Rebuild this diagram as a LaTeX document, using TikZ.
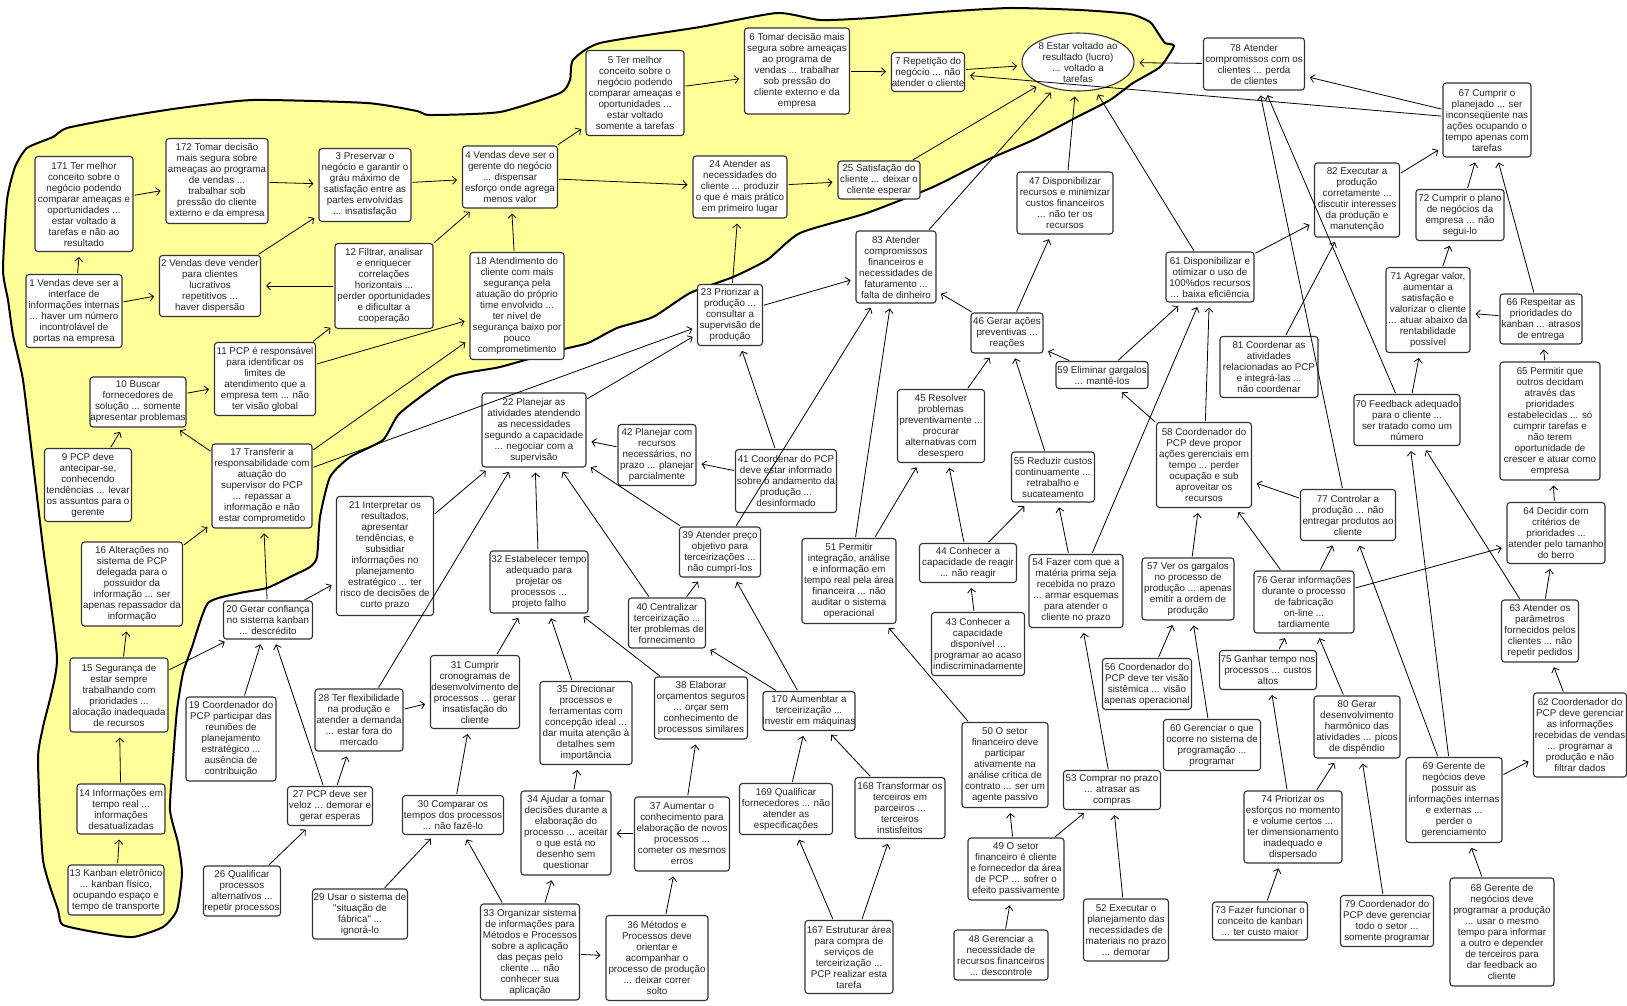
\documentclass[tikz,border=0pt]{standalone}
\usepackage{fontspec}
\newfontfamily\lab{Liberation Sans}
\usetikzlibrary{arrows.meta,shapes.geometric}
\definecolor{blobfill}{RGB}{255,255,153}
% box: rounded frame, text laid over it separately so long lines may overhang
\newcommand\bx[5]{%
  \node[box,minimum width=#3pt,minimum height=#4pt] (n#1) at (#2) {};
  \node[lbl] (t#1) at (n#1) {#5};}
\begin{document}
\begin{tikzpicture}[x=1pt,y=-1pt,
  box/.style={draw=black!80,line width=1.1pt,rounded corners=3pt,fill=white,inner sep=0pt},
  lbl/.style={align=center,inner sep=0pt,font=\lab\fontsize{9.8}{11}\selectfont,text=black!85},
  con/.style={draw=black,line width=0.8pt,-{Straight Barb[length=4pt,width=8pt,line width=0.8pt]},shorten >=5pt,shorten <=1pt}]
\useasboundingbox (0,0) rectangle (1627,1005);
\fill[white] (0,0) rectangle (1627,1005);

% shaded cluster
\draw[fill=blobfill,line width=2pt,line join=round]
  plot[smooth cycle,tension=0.35] coordinates {
  (3,270) (7,200) (15,167) (27,148) (53,137) (67,128) (123,117) (180,108)
  (253,100) (367,103) (417,111) (430,115) (500,112) (560,93) (570,80)
  (573,60) (600,43) (700,27) (777,13) (820,20) (870,18) (940,12) (1010,8)
  (1080,10) (1130,14) (1150,22) (1158,33) (1165,43) (1174,46) (1160,67)
  (1133,83) (1110,100) (1077,117) (1033,140) (987,160) (933,187) (867,213)
  (800,233) (767,260) (733,277) (690,293) (653,317) (617,328) (588,343)
  (560,350) (500,367) (450,377) (400,413) (383,440) (350,457) (330,477)
  (320,517) (317,557) (310,567) (290,577) (267,588) (240,593) (208,603)
  (192,647) (183,673) (177,710) (173,760) (170,810) (178,843) (182,873)
  (177,910) (163,927) (133,937) (100,933) (63,925) (58,910) (43,860)
  (38,760) (43,727) (57,660) (43,547) (33,463) (23,380) (13,335) (8,300)};

% concepts
\bx{171}{84,204}{98}{95}{171 Ter melhor\\conceito sobre o\\negócio podendo\\comparar ameaças e\\oportunidades ...\\estar voltado a\\tarefas e não ao\\resultado}
\bx{172}{217,181}{102}{85}{172 Tomar decisão\\mais segura sobre\\ameaças ao programa\\de vendas ...\\trabalhar sob\\pressão do cliente\\externo e da empresa}
\bx{3}{365,185}{92}{73}{3 Preservar o\\negócio e garantir o\\gráu máximo de\\satisfação entre as\\partes envolvidas\\... insatisfação}
\bx{2}{210,286}{101}{61}{2 Vendas deve vender\\para clientes\\lucrativos\\repetitivos ...\\haver dispersão}
\bx{1}{74,311}{96}{73}{1 Vendas deve ser a\\interface de\\informações internas\\... haver um número\\incontrolável de\\portas na empresa}
\bx{12}{384,286}{98}{85}{12 Filtrar, analisar\\e enriquecer\\correlações\\horizontais ...\\perder oportunidades\\e dificultar a\\cooperação}
\bx{5}{635,93}{98}{85}{5 Ter melhor\\conceito sobre o\\negócio podendo\\comparar ameaças e\\oportunidades ...\\estar voltado\\somente a tarefas}
\bx{6}{797,71}{105}{86}{6 Tomar decisão mais\\segura sobre ameaças\\ao programa de\\vendas ... trabalhar\\sob pressão do\\cliente externo e da\\empresa}
\bx{4}{510,177}{95}{62}{4 Vendas deve ser o\\gerente do negócio\\... dispensar\\esforço onde agrega\\menos valor}
\bx{24}{740,187}{94}{62}{24 Atender as\\necessidades do\\cliente ... produzir\\o que é mais prático\\em primeiro lugar}
\bx{18}{517,306}{94}{107}{18 Atendimento do\\cliente com mais\\segurança pela\\atuação do próprio\\time envolvido ...\\ter nível de\\segurança baixo por\\pouco\\comprometimento}
\bx{23}{730,315}{65}{61}{23 Priorizar a\\produção ...\\consultar a\\supervisão de\\produção}
\bx{7}{928,72}{73}{39}{7 Repetição do\\negócio ... não\\atender o cliente}
\node[ellipse,draw=black!80,line width=1.1pt,fill=white,inner sep=0pt,minimum width=112pt,minimum height=58pt] (n8) at (1078,62) {};
\node[lbl] (t8) at (n8) {8 Estar voltado ao\\resultado (lucro)\\... voltado a\\tarefas};
\bx{25}{879,180}{82}{38}{25 Satisfação do\\cliente ... deixar o\\cliente esperar}
\bx{47}{1065,203}{96}{62}{47 Disponibilizar\\recursos e minimizar\\custos financeiros\\... não ter os\\recursos}
\bx{83}{896,267}{80}{72}{83 Atender\\compromissos\\financeiros e\\necessidades de\\faturamento ...\\falta de dinheiro}
\bx{46}{1007,333}{72}{40}{46 Gerar ações\\preventivas ...\\reações}
\bx{61}{1210,277}{88}{50}{61 Disponibilizar e\\otimizar o uso de\\100\%dos recursos\\... baixa eficiência}
\bx{78}{1254,64}{101}{52}{78 Atender\\compromissos com os\\clientes ... perda\\de clientes}
\bx{67}{1487,120}{88}{74}{67 Cumprir o\\planejado ... ser\\inconseqüente nas\\ações ocupando o\\tempo apenas com\\tarefas}
\bx{82}{1357,200}{85}{74}{82 Executar a\\produção\\corretamente ...\\discutir interesses\\da produção e\\manutenção}
\bx{72}{1460,215}{88}{51}{72 Cumprir o plano\\de negócios da\\empresa ... não\\segui-lo}
\bx{71}{1428,310}{84}{85}{71 Agregar valor,\\aumentar a\\satisfação e\\valorizar o cliente\\... atuar abaixo da\\rentabilidade\\possível}
\bx{66}{1541,319}{82}{50}{66 Respeitar as\\prioridades do\\kanban ... atrasos\\de entrega}
\bx{81}{1269,367}{98}{61}{81 Coordenar as\\atividades\\relacionadas ao PCP\\e integrá-las ...\\não coordenar}
\bx{70}{1407,420}{106}{51}{70 Feedback adequado\\para o cliente ...\\ser tratado como um\\número}
\bx{65}{1550,421}{100}{118}{65 Permitir que\\outros decidam\\através das\\prioridades\\estabelecidas ... só\\cumprir tarefas e\\não terem\\oportunidade de\\crescer e atuar como\\empresa}
\bx{58}{1204,465}{95}{85}{58 Coordenador do\\PCP deve propor\\ações gerenciais em\\tempo ... perder\\ocupação e sub\\aproveitar os\\recursos}
\bx{77}{1348,515}{95}{51}{77 Controlar a\\produção ... não\\entregar produtos ao\\cliente}
\bx{64}{1556,533}{98}{61}{64 Decidir com\\critérios de\\prioridades ...\\atender pelo tamanho\\do berro}
\bx{76}{1304,602}{100}{62}{76 Gerar informações\\durante o processo\\de fabricação\\on-line ...\\tardiamente}
\bx{63}{1540,631}{77}{62}{63 Atender os\\parâmetros\\fornecidos pelos\\clientes ... não\\repetir pedidos}
\bx{75}{1268,670}{97}{39}{75 Ganhar tempo nos\\processos ... custos\\altos}
\bx{57}{1188,589}{92}{62}{57 Ver os gargalos\\no processo de\\produção ... apenas\\emitir a ordem de\\produção}
\bx{11}{265,379}{101}{73}{11 PCP é responsável\\para identificar os\\limites de\\atendimento que a\\empresa tem ... não\\ter visão global}
\bx{10}{138,402}{96}{50}{10 Buscar\\fornecedores de\\solução ... somente\\apresentar problemas}
\bx{9}{88,485}{87}{73}{9 PCP deve\\antecipar-se,\\conhecendo\\tendências ... levar\\os assuntos para o\\gerente}
\bx{17}{262,486}{100}{84}{17 Transferir a\\responsabilidade com\\atuação do\\supervisor do PCP\\... repassar a\\informação e não\\estar comprometido}
\bx{16}{132,584}{101}{84}{16 Alterações no\\sistema de PCP\\delegada para o\\possuidor da\\informação ... ser\\apenas repassador da\\informação}
\bx{20}{268,620}{89}{38}{20 Gerar confiança\\no sistema kanban\\... descrédito}
\bx{21}{385,556}{97}{119}{21 Interpretar os\\resultados,\\apresentar\\tendências, e\\subsidiar\\informações no\\planejamento\\estratégico ... ter\\risco de decisões de\\curto prazo}
\bx{15}{119,695}{98}{74}{15 Segurança de\\estar sempre\\trabalhando com\\prioridades ...\\alocação inadequada\\de recursos}
\bx{14}{121,809}{88}{50}{14 Informações em\\tempo real ...\\informações\\desatualizadas}
\bx{13}{116,890}{96}{50}{13 Kanban eletrônico\\... kanban físico,\\ocupando espaço e\\tempo de transporte}
\bx{19}{231,739}{90}{84}{19 Coordenador do\\PCP participar das\\reuniões de\\planejamento\\estratégico ...\\ausência de\\contribuição}
\bx{28}{359,720}{88}{62}{28 Ter flexibilidade\\na produção e\\atender a demanda\\... estar fora do\\mercado}
\bx{27}{330,806}{85}{39}{27 PCP deve ser\\veloz ... demorar e\\gerar esperas}
\bx{26}{242,891}{77}{50}{26 Qualificar\\processos\\alternativos ...\\repetir processos}
\bx{29}{360,914}{95}{50}{29 Usar o sistema de\\"situação de\\fábrica" ...\\ignorá-lo}
\bx{22}{534,430}{104}{74}{22 Planejar as\\atividades atendendo\\as necessidades\\segundo a capacidade\\... negociar com a\\supervisão}
\bx{42}{657,455}{78}{61}{42 Planejar com\\recursos\\necessários, no\\prazo ... planejar\\parcialmente}
\bx{41}{786,481}{101}{63}{41 Coordenar do PCP\\deve estar informado\\sobre o andamento da\\produção ...\\desinformado}
\bx{39}{720,552}{81}{50}{39 Atender preço\\objetivo para\\terceirizações ...\\não cumprí-los}
\bx{32}{539,582}{98}{62}{32 Estabelecer tempo\\adequado para\\projetar os\\processos ...\\projeto falho}
\bx{40}{667,623}{77}{50}{40 Centralizar\\terceirização ...\\ter problemas de\\fornecimento}
\bx{31}{475,692}{89}{73}{31 Cumprir\\cronogramas de\\desenvolvimento de\\processos ... gerar\\insatisfação do\\cliente}
\bx{35}{586,723}{92}{83}{35 Direcionar\\processos e\\ferramentas com\\concepção ideal ...\\dar muita atenção à\\detalhes sem\\importância}
\bx{38}{701,708}{93}{62}{38 Elaborar\\orçamentos seguros\\... orçar sem\\conhecimento de\\processos similares}
\bx{170}{809,711}{92}{39}{170 Aumenbtar a\\terceirização ...\\investir em máquinas}
\bx{30}{453,815}{101}{39}{30 Comparar os\\tempos dos processos\\... não fazê-lo}
\bx{34}{566,833}{90}{84}{34 Ajudar a tomar\\decisões durante a\\elaboração do\\processo ... aceitar\\o que está no\\desenho sem\\questionar}
\bx{37}{682,834}{95}{74}{37 Aumentar o\\conhecimento para\\elaboração de novos\\processos ...\\cometer os mesmos\\erros}
\bx{169}{786,809}{93}{51}{169 Qualificar\\fornecedores ... não\\atender as\\especificações}
\bx{33}{530,952}{99}{96}{33 Organizar sistema\\de informações para\\Métodos e Processos\\sobre a aplicação\\das peças pelo\\cliente ... não\\conhecer sua\\aplicação}
\bx{36}{657,958}{102}{85}{36 Métodos e\\Processos deve\\orientar e\\acompanhar o\\processo de produção\\... deixar correr\\solto}
\bx{168}{900,808}{90}{61}{168 Transformar os\\terceiros em\\parceiros ...\\terceiros\\instisfeitos}
\bx{167}{849,957}{88}{73}{167 Estruturar área\\para compra de\\serviços de\\terceirização ...\\PCP realizar esta\\tarefa}
\bx{50}{1005,765}{86}{85}{50 O setor\\financeiro deve\\participar\\ativamente na\\análise crítica de\\contrato ... ser um\\agente passivo}
\bx{49}{1016,869}{96}{62}{49 O setor\\financeiro é cliente\\e fornecedor da área\\de PCP ... sofrer o\\efeito passivamente}
\bx{48}{1001,955}{94}{50}{48 Gerenciar a\\necessidade de\\recursos financeiros\\... descontrole}
\bx{53}{1112,790}{97}{39}{53 Comprar no prazo\\... atrasar as\\compras}
\bx{52}{1126,930}{85}{62}{52 Executar o\\planejamento das\\necessidades de\\materiais no prazo\\... demorar}
\bx{56}{1147,684}{89}{51}{56 Coordenador do\\PCP deve ter visão\\sistêmica ... visão\\apenas operacional}
\bx{60}{1212,745}{97}{51}{60 Gerenciar o que\\ocorre no sistema de\\programação ...\\programar}
\bx{59}{1102,375}{92}{27}{59 Eliminar gargalos\\... mantê-los}
\bx{45}{941,426}{87}{73}{45 Resolver\\problemas\\preventivamente ...\\procurar\\alternativas com\\desespero}
\bx{55}{1053,477}{83}{50}{55 Reduzir custos\\continuamente ...\\retrabalho e\\sucateamento}
\bx{51}{849,581}{94}{85}{51 Permitir\\integração, análise\\e informação em\\tempo real pela área\\financeira ... não\\auditar o sistema\\operacional}
\bx{44}{968,563}{97}{39}{44 Conhecer a\\capacidade de reagir\\... não reagir}
\bx{54}{1076,591}{94}{73}{54 Fazer com que a\\matéria prima seja\\recebida no prazo\\... armar esquemas\\para atender o\\cliente no prazo}
\bx{43}{978,644}{93}{63}{43 Conhecer a\\capacidade\\disponível ...\\programar ao acaso\\indiscriminadamente}
\bx{80}{1357,727}{86}{62}{80 Gerar\\desenvolvimento\\harmônico das\\atividades ... picos\\de dispêndio}
\bx{74}{1293,827}{98}{72}{74 Priorizar os\\esforços no momento\\e volume certos ...\\ter dimensionamento\\inadequado e\\dispersado}
\bx{69}{1454,800}{96}{85}{69 Gerente de\\negócios deve\\possuir as\\informações internas\\e externas ...\\perder o\\gerenciamento}
\bx{62}{1580,735}{93}{84}{62 Coordenador do\\PCP deve gerenciar\\as informações\\recebidas de vendas\\... programar a\\produção e não\\filtrar dados}
\bx{73}{1260,921}{95}{38}{73 Fazer funcionar o\\conceito de kanban\\... ter custo maior}
\bx{79}{1387,921}{93}{51}{79 Coordenador do\\PCP deve gerenciar\\todo o setor ...\\somente programar}
\bx{68}{1502,932}{104}{108}{68 Gerente de\\negócios deve\\programar a produção\\... usar o mesmo\\tempo para informar\\a outro e depender\\de terceiros para\\dar feedback ao\\cliente}

% influences
\foreach \a/\b in {1/171,1/2,171/172,172/3,2/3,12/2,3/4,12/4,18/4,4/5,4/24,5/6,6/7,7/8,
  24/25,25/8,83/8,47/8,61/8,78/8,67/7,67/78,82/67,72/67,66/67,71/72,66/71,61/82,81/82,
  77/78,70/78,70/71,65/66,64/65,63/64,63/70,69/70,69/77,76/77,76/58,77/58,76/64,75/76,
  80/76,74/75,74/80,73/74,79/80,68/69,69/62,62/63,58/61,59/61,54/61,59/46,58/59,46/47,
  46/83,45/46,55/46,51/45,44/45,44/55,54/55,43/44,51/83,39/83,41/23,22/23,17/23,23/24,
  23/83,11/12,11/18,17/18,10/11,9/10,17/10,16/17,20/17,20/21,15/16,15/20,14/15,13/14,
  19/20,27/20,27/28,26/27,29/30,28/31,28/22,21/22,32/22,40/22,39/22,42/22,41/42,40/39,
  170/39,170/40,38/32,35/32,31/32,30/31,33/30,33/34,33/36,34/35,37/34,36/37,37/38,
  169/170,168/170,167/169,167/168,50/51,49/50,49/53,48/49,52/53,53/54,56/57,60/57,57/58}
  \draw[con] (n\a) -- (n\b);
\end{tikzpicture}
\end{document}
